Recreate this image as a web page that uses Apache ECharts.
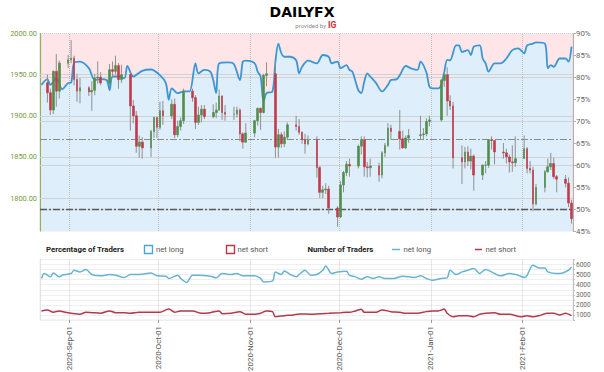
<!DOCTYPE html>
<html><head><meta charset="utf-8">
<script src="https://cdn.jsdelivr.net/npm/echarts@6/dist/echarts.min.js"></script>
<style>html,body{margin:0;padding:0;background:#fff}#c{width:604px;height:372px}</style>
</head><body><div id="c"></div>
<script>
// ---------- DATA ----------
const candleDates = ['2020-08-24','2020-08-25','2020-08-26','2020-08-27','2020-08-28','2020-08-31',
'2020-09-01','2020-09-02','2020-09-03','2020-09-04','2020-09-07','2020-09-08','2020-09-09','2020-09-10','2020-09-11',
'2020-09-14','2020-09-15','2020-09-16','2020-09-17','2020-09-18','2020-09-21','2020-09-22','2020-09-23','2020-09-24','2020-09-25',
'2020-09-28','2020-09-29','2020-09-30','2020-10-01','2020-10-02','2020-10-05','2020-10-06','2020-10-07','2020-10-08','2020-10-09',
'2020-10-12','2020-10-13','2020-10-14','2020-10-15','2020-10-16','2020-10-19','2020-10-20','2020-10-21','2020-10-22','2020-10-23',
'2020-10-26','2020-10-27','2020-10-28','2020-10-29','2020-10-30','2020-11-02','2020-11-03','2020-11-04','2020-11-05','2020-11-06',
'2020-11-09','2020-11-10','2020-11-11','2020-11-12','2020-11-13','2020-11-16','2020-11-17','2020-11-18','2020-11-19','2020-11-20',
'2020-11-23','2020-11-24','2020-11-25','2020-11-26','2020-11-27','2020-11-30','2020-12-01','2020-12-02','2020-12-03','2020-12-04',
'2020-12-07','2020-12-08','2020-12-09','2020-12-10','2020-12-11','2020-12-14','2020-12-15','2020-12-16','2020-12-17','2020-12-18',
'2020-12-21','2020-12-22','2020-12-23','2020-12-24','2020-12-28','2020-12-29','2020-12-30','2020-12-31','2021-01-04','2021-01-05',
'2021-01-06','2021-01-07','2021-01-08','2021-01-11','2021-01-12','2021-01-13','2021-01-14','2021-01-15','2021-01-18','2021-01-19',
'2021-01-20','2021-01-21','2021-01-22','2021-01-25','2021-01-26','2021-01-27','2021-01-28','2021-01-29','2021-02-01','2021-02-02',
'2021-02-03','2021-02-04','2021-02-05','2021-02-08','2021-02-09','2021-02-10','2021-02-11','2021-02-12','2021-02-15','2021-02-16','2021-02-17'];
const openP = [1940,1928,1907,1954,1930,1964,
1968,1970,1944,1930,1934,1929,1931,1946,1947,
1940,1956,1954,1961,1944,1950,1912,1900,1863,1868,
1861,1881,1898,1886,1906,1900,1914,1877,1887,1894,
1930,1922,1892,1901,1908,1899,1904,1907,1924,1904,
1902,1902,1907,1878,1868,1879,1894,1909,1904,1949,
1951,1862,1877,1866,1874,1889,1887,1880,1871,1866,
1871,1837,1807,1810,1811,1788,1777,1816,1831,1841,
1839,1863,1871,1838,1837,1839,1828,1855,1864,1885,
1881,1872,1861,1873,1876,1877,1878,1893,1895,1943,
1950,1918,1912,1849,1844,1856,1845,1851,1828,1840,
1840,1871,1870,1856,1855,1850,1844,1843,1848,1860,
1836,1834,1793,1813,1832,1838,1842,1826,1823,1818,1794];
const highP = [1950,1933,1955,1975,1967,1974,
1992,1973,1951,1946,1936,1942,1951,1966,1953,
1963,1966,1973,1964,1962,1955,1919,1906,1876,1874,
1883,1899,1899,1917,1918,1920,1921,1894,1898,1933,
1933,1925,1911,1913,1913,1914,1916,1932,1925,1913,
1911,1911,1909,1880,1891,1895,1910,1910,1951,1965,
1966,1884,1880,1881,1892,1900,1896,1881,1878,1876,
1875,1839,1815,1818,1815,1790,1821,1833,1845,1848,
1865,1875,1875,1844,1848,1843,1857,1867,1891,1889,
1907,1882,1876,1884,1900,1885,1897,1900,1945,1953,
1959,1925,1917,1864,1862,1863,1860,1853,1841,1845,
1871,1875,1870,1867,1860,1853,1864,1875,1876,1862,
1845,1838,1817,1834,1848,1855,1849,1828,1828,1825,1798];
const lowP = [1916,1901,1902,1911,1921,1958,
1964,1937,1917,1915,1924,1906,1925,1939,1937,
1937,1947,1950,1933,1940,1882,1891,1855,1849,1848,
1850,1873,1873,1883,1889,1896,1873,1874,1882,1890,
1917,1884,1889,1892,1896,1897,1897,1906,1895,1894,
1895,1898,1869,1860,1867,1874,1888,1883,1903,1936,
1849,1849,1861,1862,1871,1882,1877,1866,1854,1864,
1825,1800,1800,1805,1781,1765,1776,1807,1827,1826,
1836,1853,1826,1825,1826,1820,1824,1850,1862,1871,
1859,1860,1860,1867,1871,1872,1875,1887,1893,1935,
1900,1907,1836,1817,1836,1839,1835,1809,1822,1830,
1837,1859,1841,1848,1842,1831,1832,1838,1848,1830,
1830,1784,1791,1807,1831,1834,1823,1807,1813,1789,1769];
const closeP = [1928,1907,1954,1930,1964,1968,
1970,1944,1930,1934,1929,1931,1946,1947,1940,
1956,1954,1961,1944,1950,1912,1900,1863,1868,1861,
1881,1898,1886,1906,1900,1914,1877,1887,1894,1930,
1922,1892,1901,1908,1899,1904,1907,1924,1904,1902,
1902,1907,1878,1868,1879,1894,1909,1904,1949,1951,
1862,1877,1866,1874,1889,1887,1880,1871,1866,1871,
1837,1807,1810,1811,1788,1777,1816,1831,1841,1839,
1863,1871,1838,1837,1839,1828,1855,1864,1885,1881,
1872,1861,1873,1876,1877,1878,1893,1895,1943,1950,
1918,1912,1849,1844,1856,1845,1851,1828,1840,1840,
1871,1870,1856,1855,1850,1844,1843,1848,1860,1836,
1834,1793,1813,1832,1838,1842,1826,1823,1818,1794,1775];

const sentDates = ['2020-08-22','2020-08-24','2020-08-25','2020-08-27','2020-08-29','2020-08-31','2020-09-01','2020-09-02','2020-09-04','2020-09-07',
'2020-09-09','2020-09-11','2020-09-13','2020-09-14','2020-09-15','2020-09-17','2020-09-19','2020-09-20','2020-09-22','2020-09-25',
'2020-09-28','2020-10-01','2020-10-03','2020-10-04','2020-10-05','2020-10-07','2020-10-09','2020-10-11','2020-10-13','2020-10-14',
'2020-10-16','2020-10-18','2020-10-19','2020-10-20','2020-10-21','2020-10-24','2020-10-26','2020-10-28','2020-10-29','2020-10-30',
'2020-11-02','2020-11-03','2020-11-04','2020-11-05','2020-11-06','2020-11-08','2020-11-09','2020-11-10','2020-11-11','2020-11-12',
'2020-11-14','2020-11-16','2020-11-17','2020-11-18','2020-11-20','2020-11-23','2020-11-25','2020-11-27','2020-11-28','2020-11-30',
'2020-12-01','2020-12-03','2020-12-04','2020-12-05','2020-12-07','2020-12-08','2020-12-09','2020-12-10','2020-12-11','2020-12-13',
'2020-12-15','2020-12-17','2020-12-18','2020-12-20','2020-12-21','2020-12-23','2020-12-25','2020-12-27','2020-12-28','2020-12-30',
'2020-12-31','2021-01-01','2021-01-03','2021-01-04','2021-01-05','2021-01-06','2021-01-07','2021-01-09','2021-01-10','2021-01-11',
'2021-01-13','2021-01-14','2021-01-15','2021-01-17','2021-01-18','2021-01-19','2021-01-20','2021-01-22','2021-01-24','2021-01-26',
'2021-01-28','2021-01-30','2021-02-01','2021-02-02','2021-02-04','2021-02-05','2021-02-08','2021-02-09','2021-02-10','2021-02-11',
'2021-02-13','2021-02-15','2021-02-16','2021-02-17'];
const netLongPct = [78.3,79.6,78.3,79.8,77.3,78.7,78.8,83.3,83.6,82.1,
79.4,79.6,79.4,77.1,80.2,80.2,79.8,82.6,80.2,81.5,
81.8,80.5,78.7,74.9,77.5,76.4,76.8,76.8,83.2,80.9,
81.7,81.3,79.4,76.4,83.2,83.4,83.0,79.4,83.6,83.8,
83.2,81.3,80.2,74.5,76.4,76.8,83.6,87.7,85.5,84.7,
84.7,83.9,80.9,82.4,83.8,83.2,85.1,84.7,83.2,83.6,
82.1,82.8,81.7,81.3,77.1,76.4,79.0,80.9,80.2,78.7,
76.8,78.3,79.4,79.6,80.5,82.6,82.0,81.7,83.6,81.1,
77.9,77.5,77.5,78.3,81.1,84.0,83.9,87.3,87.3,85.8,
86.2,85.1,87.0,87.3,84.3,83.2,81.3,83.2,83.2,84.3,
86.2,86.6,85.5,87.3,87.7,88.0,87.7,82.1,82.8,82.4,
84.3,84.3,83.6,87.0];

const longDates = ['2020-08-22','2020-08-23','2020-08-25','2020-08-26','2020-08-28','2020-08-29','2020-09-01','2020-09-02','2020-09-04','2020-09-06',
'2020-09-08','2020-09-11','2020-09-14','2020-09-16','2020-09-19','2020-09-21','2020-09-24','2020-09-28','2020-09-30','2020-10-03',
'2020-10-04','2020-10-07','2020-10-08','2020-10-10','2020-10-12','2020-10-14','2020-10-18','2020-10-20','2020-10-22','2020-10-25',
'2020-10-27','2020-10-29','2020-11-02','2020-11-04','2020-11-05','2020-11-08','2020-11-09','2020-11-11','2020-11-12','2020-11-14',
'2020-11-16','2020-11-17','2020-11-19','2020-11-21','2020-11-23','2020-11-25','2020-11-26','2020-11-28','2020-11-30','2020-12-03',
'2020-12-04','2020-12-06','2020-12-08','2020-12-10','2020-12-12','2020-12-14','2020-12-16','2020-12-19','2020-12-22','2020-12-26',
'2020-12-28','2020-12-30','2021-01-01','2021-01-04','2021-01-06','2021-01-07','2021-01-09','2021-01-11','2021-01-13','2021-01-15',
'2021-01-17','2021-01-19','2021-01-22','2021-01-24','2021-01-27','2021-01-30','2021-02-01','2021-02-02','2021-02-04','2021-02-06',
'2021-02-08','2021-02-09','2021-02-12','2021-02-14','2021-02-16','2021-02-17'];
const netLongCount = [4620,5110,4780,5170,4780,4940,5110,5440,5270,5510,
5010,4880,5010,4940,4720,5010,5010,5170,4880,4850,
4620,4940,4620,4230,4940,4940,4850,4680,5110,5010,
5110,4880,4880,4620,4280,4350,5270,5010,5370,5010,
4780,5010,5440,4940,5010,5440,5860,5110,5270,5340,
4940,4780,4550,4780,4620,4780,4620,4620,4850,4720,
4880,4620,4450,4620,4680,5440,5010,5270,5440,5610,
5110,5510,5110,4880,5110,4940,4720,4940,5930,5660,
5660,5270,5110,5170,5440,5760];

const shortDates = ['2020-08-22','2020-08-24','2020-08-26','2020-08-28','2020-08-30','2020-09-01','2020-09-04','2020-09-06','2020-09-08','2020-09-11',
'2020-09-14','2020-09-16','2020-09-19','2020-09-21','2020-09-24','2020-09-29','2020-10-01','2020-10-04','2020-10-06','2020-10-08',
'2020-10-12','2020-10-15','2020-10-18','2020-10-21','2020-10-22','2020-10-25','2020-10-28','2020-10-30','2020-11-02','2020-11-04',
'2020-11-06','2020-11-08','2020-11-09','2020-11-12','2020-11-15','2020-11-17','2020-11-21','2020-11-24','2020-11-27','2020-12-01',
'2020-12-03','2020-12-04','2020-12-06','2020-12-08','2020-12-09','2020-12-13','2020-12-15','2020-12-18','2020-12-21','2020-12-23',
'2020-12-27','2020-12-30','2021-01-01','2021-01-03','2021-01-05','2021-01-06','2021-01-08','2021-01-10','2021-01-13','2021-01-15',
'2021-01-17','2021-01-19','2021-01-22','2021-01-24','2021-01-27','2021-01-31','2021-02-02','2021-02-04','2021-02-06','2021-02-09',
'2021-02-11','2021-02-13','2021-02-15','2021-02-17'];
const netShortCount = [1400,1490,1270,1400,1270,1170,1070,1270,1230,1170,
1400,1230,1230,1170,1270,1270,1270,1590,1270,1400,
1400,1170,1230,1400,1130,1170,1330,1070,1070,1170,
1400,1330,830,930,1000,1100,1070,1130,1170,1230,
1270,1270,1400,1560,1270,1270,1490,1330,1270,1170,
1170,1330,1400,1400,1590,1170,830,930,930,830,
1070,1170,1230,1070,1070,830,930,830,930,1170,
1170,1000,1170,930];

const priceTicks = [1800, 1850, 1900, 1950, 2000];
const priceGridLevels = [1800, 1850, 1900, 1950];
const pctGridLevels = [50, 60, 70, 80];
const keyLevels = [1871.7, 1786.6];
const monthStarts = ['2020-09-01','2020-10-01','2020-11-01','2020-12-01','2021-01-01','2021-02-01'];
const rangeStart = '2020-08-22', rangeEnd = '2021-02-18';

// ---------- BUILD ----------
const DAY = 864e5;
const ts = d => new Date(d + 'T00:00:00').getTime();
const mid = d => ts(d) + DAY / 2;
const xMin = ts(rangeStart), xMax = ts(rangeEnd);

const wickData = candleDates.map((d, i) => [mid(d), lowP[i], highP[i]]);
const bodyData = candleDates.map((d, i) => [mid(d), openP[i], closeP[i], Math.min(openP[i], closeP[i]), Math.max(openP[i], closeP[i])]);
const sentData = sentDates.map((d, i) => [mid(d), netLongPct[i]]);
const longData = longDates.map((d, i) => [mid(d), netLongCount[i]]);
const shortData = shortDates.map((d, i) => [mid(d), netShortCount[i]]);

const FONT = 'Roboto, "Noto Sans", sans-serif';
const chart = echarts.init(document.getElementById('c'), null, {renderer: 'svg'});

const option = {
  animation: false,
  backgroundColor: '#ffffff',
  textStyle: {fontFamily: FONT},
  grid: [
    {left: 40, right: 31, top: 33.5, height: 197.5, show: true, backgroundColor: '#fde5e8', borderColor: '#cfcfcf', borderWidth: 1, borderType: 'dotted', outerBoundsMode: 'none'},
    {left: 40, right: 31, top: 259.5, height: 60.5, show: true, backgroundColor: '#ffffff', borderColor: '#d6d6d6', borderWidth: 1, borderType: 'dotted', outerBoundsMode: 'none'}
  ],
  xAxis: [
    {type: 'time', gridIndex: 0, min: xMin, max: xMax, axisLine: {show: false}, axisTick: {show: false}, axisLabel: {show: false}, splitLine: {show: false}},
    {type: 'time', gridIndex: 1, min: xMin, max: xMax, splitNumber: 6, minInterval: 28 * DAY, maxInterval: 31 * DAY,
     axisLine: {show: false}, axisTick: {show: true, length: 3, lineStyle: {color: '#9a9a9a'}},
     axisLabel: {formatter: '{yyyy}-{MMM}-{dd}', rotate: 90, fontSize: 7.9, color: '#555', margin: 6, fontFamily: FONT, showMinLabel: false, showMaxLabel: false},
     splitLine: {show: true, lineStyle: {color: '#cfcfcf', type: 'dotted'}}}
  ],
  yAxis: [
    {type: 'value', gridIndex: 0, min: 1760, max: 2000, interval: 10, position: 'left',
     axisLine: {show: true, lineStyle: {color: '#8db35f', width: 1.2}}, axisTick: {show: false},
     axisLabel: {formatter: v => priceTicks.indexOf(v) >= 0 ? v.toFixed(2) : '', color: '#6f9c3f', fontSize: 7.4, margin: 3, fontFamily: FONT},
     splitLine: {show: false}},
    {type: 'value', gridIndex: 0, min: 45, max: 90, interval: 5, position: 'right',
     axisLine: {show: true, lineStyle: {color: '#b0b0b0'}}, axisTick: {show: true, length: 3, lineStyle: {color: '#b0b0b0'}},
     axisLabel: {formatter: '{value}%', color: '#666', fontSize: 7.8, margin: 3, fontFamily: FONT}, splitLine: {show: false}},
    {type: 'value', gridIndex: 1, min: 500, max: 6500, interval: 500, position: 'right',
     axisLine: {show: true, lineStyle: {color: '#c0c0c0'}}, axisTick: {show: true, length: 2, lineStyle: {color: '#c0c0c0'}},
     axisLabel: {formatter: v => v % 1000 === 0 ? String(v) : '', color: '#666', fontSize: 6.5, margin: 3, fontFamily: FONT},
     splitLine: {show: true, lineStyle: {color: '#efefef'}}}
  ],
  series: [
    {name: 'net long % area', type: 'line', xAxisIndex: 0, yAxisIndex: 1, data: sentData, smooth: 0.3, symbol: 'none', z: 1,
     lineStyle: {width: 0, opacity: 0}, areaStyle: {color: '#deeefa', opacity: 1, origin: 'start'}, silent: true,
     markLine: {silent: true, symbol: 'none', z: 2, label: {show: false}, lineStyle: {color: '#d2d2d2', width: 1, type: 'solid'},
       data: pctGridLevels.map(v => ({yAxis: v}))}},
    {name: 'grid', type: 'line', xAxisIndex: 0, yAxisIndex: 0, data: [[mid(candleDates[0]), closeP[0]]], symbol: 'none', lineStyle: {opacity: 0}, z: 2, silent: true,
     markLine: {silent: true, symbol: 'none', z: 2, label: {show: false}, lineStyle: {color: '#d2d2d2', width: 1, type: 'solid'},
       data: priceGridLevels.map(v => ({yAxis: v}))
         .concat(monthStarts.map(m => ({xAxis: ts(m), lineStyle: {color: '#bdbdbd', type: 'dotted', width: 1}})))
         .concat(keyLevels.map((v, i) => ({yAxis: v, lineStyle: {color: i ? '#5a5a5a' : '#8a8a8a', width: i ? 1.3 : 1, type: [7, 2, 2, 2]}})))}},
    {name: 'net long %', type: 'line', xAxisIndex: 0, yAxisIndex: 1, data: sentData, smooth: 0.3, symbol: 'none', z: 3,
     lineStyle: {color: '#3b97d3', width: 1.8}},
    {name: 'wick', type: 'custom', xAxisIndex: 0, yAxisIndex: 0, data: wickData, encode: {x: 0, y: [1, 2]}, z: 4, silent: true,
     renderItem: (params, api) => {
       const a = api.coord([api.value(0), api.value(1)]);
       const b = api.coord([api.value(0), api.value(2)]);
       return {type: 'line', shape: {x1: a[0], y1: a[1], x2: b[0], y2: b[1]}, style: {stroke: '#8f8f8f', lineWidth: 1}};
     }},
    {name: 'price', type: 'candlestick', xAxisIndex: 0, yAxisIndex: 0, data: bodyData, encode: {x: 0, y: [1, 2, 3, 4]}, barWidth: 2.2, z: 5,
     itemStyle: {color: '#4f8f4a', color0: '#c23b4b', borderColor: '#4f8f4a', borderColor0: '#c23b4b', borderWidth: 0.6}},
    {name: 'net long', type: 'line', xAxisIndex: 1, yAxisIndex: 2, data: longData, smooth: 0.3, symbol: 'none',
     lineStyle: {color: '#67b4d0', width: 1.5}},
    {name: 'net short', type: 'line', xAxisIndex: 1, yAxisIndex: 2, data: shortData, smooth: 0.3, symbol: 'none',
     lineStyle: {color: '#b3394b', width: 1.5}}
  ],
  graphic: [
    {type: 'text', x: 302, y: 12, style: {text: '{a|DAILY}{b|FX}', align: 'center', verticalAlign: 'middle',
      rich: {a: {fontFamily: '"DejaVu Sans", sans-serif', fontWeight: 'bold', fontSize: 14, color: '#4a4a4a'},
             b: {fontFamily: '"DejaVu Sans", sans-serif', fontWeight: 'bold', fontSize: 14, color: '#ef5a24'}}}},
    {type: 'text', x: 326, y: 25, style: {text: 'provided by', align: 'right', verticalAlign: 'middle', fontFamily: FONT, fontSize: 6, fill: '#8a8a8a'}},
    {type: 'text', x: 328, y: 25, style: {text: 'IG', align: 'left', verticalAlign: 'middle', fontFamily: FONT, fontWeight: 'bold', fontSize: 8.5, fill: '#e0262b'}},
    {type: 'text', x: 46, y: 249.5, style: {text: 'Percentage of Traders', verticalAlign: 'middle', fontFamily: FONT, fontWeight: 'bold', fontSize: 7.8, fill: '#222'}},
    {type: 'rect', shape: {x: 144.5, y: 245.5, width: 8, height: 8}, style: {fill: '#ffffff', stroke: '#4aa6d8', lineWidth: 1.4}},
    {type: 'text', x: 156, y: 249.5, style: {text: 'net long', verticalAlign: 'middle', fontFamily: FONT, fontSize: 7.7, fill: '#555'}},
    {type: 'rect', shape: {x: 226.5, y: 245.5, width: 8, height: 8}, style: {fill: '#ffffff', stroke: '#b3394b', lineWidth: 1.4}},
    {type: 'text', x: 237.5, y: 249.5, style: {text: 'net short', verticalAlign: 'middle', fontFamily: FONT, fontSize: 7.7, fill: '#555'}},
    {type: 'text', x: 307.5, y: 249.5, style: {text: 'Number of Traders', verticalAlign: 'middle', fontFamily: FONT, fontWeight: 'bold', fontSize: 7.8, fill: '#222'}},
    {type: 'line', shape: {x1: 392, y1: 249.5, x2: 400, y2: 249.5}, style: {stroke: '#67b4d0', lineWidth: 1.5}},
    {type: 'text', x: 403.5, y: 249.5, style: {text: 'net long', verticalAlign: 'middle', fontFamily: FONT, fontSize: 7.7, fill: '#555'}},
    {type: 'line', shape: {x1: 475, y1: 249.5, x2: 482, y2: 249.5}, style: {stroke: '#b3394b', lineWidth: 1.5}},
    {type: 'text', x: 485.5, y: 249.5, style: {text: 'net short', verticalAlign: 'middle', fontFamily: FONT, fontSize: 7.7, fill: '#555'}}
  ]
};
chart.setOption(option);
</script>
</body></html>
